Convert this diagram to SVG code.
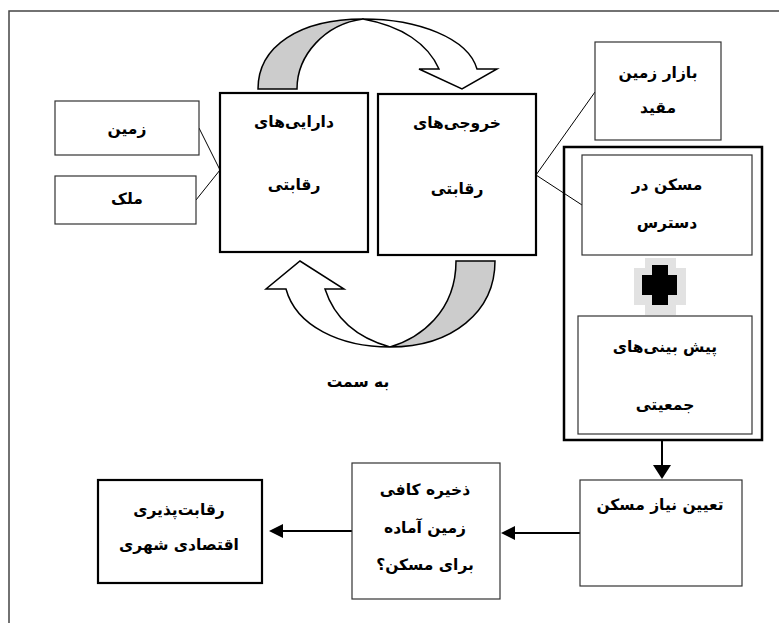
<svg xmlns="http://www.w3.org/2000/svg" width="779" height="623" viewBox="0 0 779 623">
<style>
.thin{fill:#fff;stroke:#333;stroke-width:1.2}
.thick{fill:#fff;stroke:#000;stroke-width:2.2}
.t{font-family:"DejaVu Sans",sans-serif;font-weight:bold;font-size:15.5px;fill:#000;text-anchor:middle;direction:rtl}
.ln{stroke:#000;stroke-width:1;fill:none}
.ar{stroke:#000;stroke-width:2;fill:none}
.cv{stroke:#000;stroke-width:1.5;stroke-linejoin:miter}
</style>
<rect width="779" height="623" fill="#fff"/>
<path d="M9,623 L9,11 L779,11" fill="none" stroke="#444" stroke-width="1.5"/>

<g id="connectors">
<path class="ln" d="M199,128 L220,170 L196,200"/>
<path class="ln" d="M595,92 L536,175 L582,205"/>
<g id="curve-top">
<path class="cv" fill="#cccccc" d="M258,89 C258,46 300,19 363,19 C325,24 297,55 297,89 Z"/>
<path class="cv" fill="#fff" d="M363,19 C418,19 468,38 477,69 L497,69 L462,89 L419,69 L439,69 C428,44 402,26 363,19 Z"/>
</g>
<g id="curve-bottom">
<path class="cv" fill="#cccccc" d="M456,261 L495,261 C495,312 452,347 390,347 C420,338 456,312 456,261 Z"/>
<path class="cv" fill="#fff" d="M390,347 C340,347 296,326 286,289 L266,289 L300,261 L344,289 L325,289 C335,320 358,338 390,347 Z"/>
</g>
<line class="ar" x1="662" y1="441" x2="662" y2="466"/>
<path d="M653,465 L671,465 L662,479 Z" fill="#000"/>
<line class="ar" x1="580" y1="533" x2="514" y2="533"/>
<path d="M515,526 L515,540 L501,533 Z" fill="#000"/>
<line class="ar" x1="352" y1="531" x2="282" y2="531"/>
<path d="M283,524 L283,538 L269,531 Z" fill="#000"/>
</g>

<g id="n-zamin"><rect class="thin" x="55" y="101" width="144" height="54"/><text class="t" x="127" y="134">زمین</text></g>
<g id="n-melk"><rect class="thin" x="55" y="176" width="141" height="48"/><text class="t" x="127" y="204">ملک</text></g>
<g id="n-daraei"><rect class="thick" x="220" y="93" width="148" height="159"/><text class="t" x="294" y="127">دارایی‌های</text><text class="t" x="294" y="190">رقابتی</text></g>
<g id="n-khoruji"><rect class="thick" x="378" y="94" width="158" height="161"/><text class="t" x="457" y="128">خروجی‌های</text><text class="t" x="457" y="194">رقابتی</text></g>
<g id="n-bazar"><rect class="thin" x="595" y="42" width="126" height="98"/><text class="t" x="658" y="78">بازار زمین</text><text class="t" x="658" y="113">مقید</text></g>
<g id="n-container"><rect fill="none" stroke="#000" stroke-width="2.5" x="564" y="147" width="198" height="293"/></g>
<g id="n-maskan"><rect class="thin" x="582" y="155" width="170" height="100"/><text class="t" x="667" y="190">مسکن در</text><text class="t" x="667" y="228">دسترس</text></g>
<g id="n-plus">
<path fill="#e2e2e2" d="M645,258 L676,258 L676,268 L686,268 L686,305 L676,305 L676,315 L645,315 L645,305 L634,305 L634,268 L645,268 Z"/>
<path fill="#000" d="M652,265 L668,265 L668,275 L677,275 L677,295 L668,295 L668,305 L652,305 L652,295 L642,295 L642,275 L652,275 Z"/>
</g>
<g id="n-pishbini"><rect class="thin" x="578" y="316" width="174" height="118"/><text class="t" x="665" y="352">پیش بینی‌های</text><text class="t" x="665" y="410">جمعیتی</text></g>
<g id="n-besamt"><text class="t" x="358" y="387">به سمت</text></g>
<g id="n-taein"><rect class="thin" x="580" y="480" width="162" height="106"/><text class="t" x="660" y="510">تعیین نیاز مسکن</text></g>
<g id="n-zakhire"><rect class="thin" x="352" y="463" width="148" height="136"/><text class="t" x="425" y="495">ذخیره کافی</text><text class="t" x="425" y="533">زمین آماده</text><text class="t" x="425" y="570">برای مسکن؟</text></g>
<g id="n-reghabat"><rect class="thick" x="98" y="480" width="164" height="103"/><text class="t" x="179" y="515">رقابت‌پذیری</text><text class="t" x="179" y="550">اقتصادی شهری</text></g>
</svg>
